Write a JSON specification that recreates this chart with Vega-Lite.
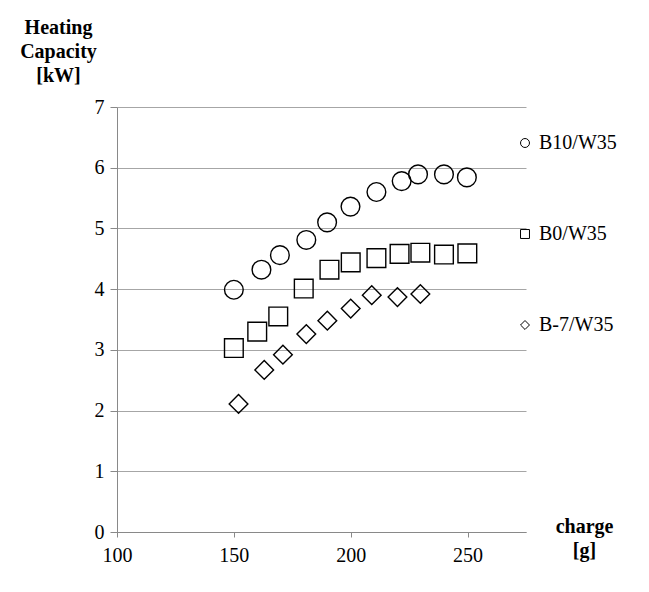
{
  "$schema": "https://vega.github.io/schema/vega-lite/v6.json",
  "width": 409,
  "height": 425,
  "autosize": "none",
  "padding": {"left": 117, "top": 107, "right": 123, "bottom": 60},
  "background": "white",
  "config": {
    "view": {"stroke": null},
    "font": "Liberation Serif",
    "axis": {"labelFont": "Liberation Serif", "titleFont": "Liberation Serif"},
    "legend": {"labelFont": "Liberation Serif"}
  },
  "data": {
    "values": [
      {"series": "B10/W35", "charge": 150, "capacity": 3.99},
      {"series": "B10/W35", "charge": 161.8, "capacity": 4.32},
      {"series": "B10/W35", "charge": 169.7, "capacity": 4.56},
      {"series": "B10/W35", "charge": 181, "capacity": 4.81},
      {"series": "B10/W35", "charge": 189.9, "capacity": 5.1},
      {"series": "B10/W35", "charge": 199.9, "capacity": 5.36},
      {"series": "B10/W35", "charge": 211, "capacity": 5.6},
      {"series": "B10/W35", "charge": 221.8, "capacity": 5.78},
      {"series": "B10/W35", "charge": 228.8, "capacity": 5.89},
      {"series": "B10/W35", "charge": 239.9, "capacity": 5.89},
      {"series": "B10/W35", "charge": 249.7, "capacity": 5.84},
      {"series": "B0/W35", "charge": 150, "capacity": 3.03},
      {"series": "B0/W35", "charge": 160, "capacity": 3.3},
      {"series": "B0/W35", "charge": 169, "capacity": 3.55},
      {"series": "B0/W35", "charge": 179.9, "capacity": 4.01},
      {"series": "B0/W35", "charge": 190.9, "capacity": 4.32},
      {"series": "B0/W35", "charge": 200, "capacity": 4.44},
      {"series": "B0/W35", "charge": 211, "capacity": 4.51},
      {"series": "B0/W35", "charge": 220.9, "capacity": 4.58},
      {"series": "B0/W35", "charge": 229.8, "capacity": 4.6},
      {"series": "B0/W35", "charge": 239.9, "capacity": 4.57},
      {"series": "B0/W35", "charge": 249.9, "capacity": 4.59},
      {"series": "B-7/W35", "charge": 152, "capacity": 2.11},
      {"series": "B-7/W35", "charge": 163, "capacity": 2.67},
      {"series": "B-7/W35", "charge": 171, "capacity": 2.92},
      {"series": "B-7/W35", "charge": 181, "capacity": 3.26},
      {"series": "B-7/W35", "charge": 190, "capacity": 3.48},
      {"series": "B-7/W35", "charge": 200, "capacity": 3.68},
      {"series": "B-7/W35", "charge": 209, "capacity": 3.9},
      {"series": "B-7/W35", "charge": 220, "capacity": 3.87},
      {"series": "B-7/W35", "charge": 229.8, "capacity": 3.92}
    ]
  },
  "mark": {"type": "point", "filled": false, "stroke": "black", "strokeWidth": 1.4, "size": 350, "opacity": 1},
  "encoding": {
    "x": {
      "field": "charge",
      "type": "quantitative",
      "scale": {"domain": [100, 275], "nice": false, "zero": false},
      "axis": {
        "values": [100, 150, 200, 250],
        "grid": false,
        "domainColor": "#898989",
        "tickColor": "#898989",
        "tickSize": 5,
        "labelFont": "Liberation Serif",
        "labelFontSize": 20,
        "labelColor": "black",
        "labelPadding": 8,
        "labelFlush": false,
        "title": ["charge", "[g]"],
        "titleFont": "Liberation Serif",
        "titleFontSize": 20,
        "titleFontWeight": "bold",
        "titleColor": "black",
        "titleAlign": "center",
        "titleBaseline": "top",
        "titleAngle": 0,
        "titleX": 467,
        "titleY": -16,
        "titleLineHeight": 24
      }
    },
    "y": {
      "field": "capacity",
      "type": "quantitative",
      "scale": {"domain": [0, 7], "nice": false},
      "axis": {
        "values": [0, 1, 2, 3, 4, 5, 6, 7],
        "grid": true,
        "gridColor": "#a6a6a6",
        "gridWidth": 1,
        "domainColor": "#898989",
        "tickColor": "#898989",
        "tickSize": 7,
        "labelFont": "Liberation Serif",
        "labelFontSize": 20,
        "labelColor": "black",
        "labelPadding": 6,
        "labelFlush": false,
        "title": ["Heating", "Capacity", "[kW]"],
        "titleFont": "Liberation Serif",
        "titleFontSize": 20,
        "titleFontWeight": "bold",
        "titleColor": "black",
        "titleAlign": "center",
        "titleBaseline": "top",
        "titleAngle": 0,
        "titleX": -59,
        "titleY": -90,
        "titleLineHeight": 24
      }
    },
    "shape": {
      "field": "series",
      "type": "nominal",
      "scale": {"domain": ["B10/W35", "B0/W35", "B-7/W35"], "range": ["circle", "square", "diamond"]},
      "legend": {
        "title": null,
        "orient": "none",
        "legendX": 398,
        "legendY": 26,
        "padding": 0,
        "rowPadding": 71,
        "symbolSize": 80,
        "symbolStrokeColor": "black",
        "symbolFillColor": "transparent",
        "symbolStrokeWidth": 1,
        "labelFont": "Liberation Serif",
        "labelFontSize": 20,
        "labelColor": "black",
        "labelOffset": 4,
        "labelLimit": 200
      }
    }
  }
}
